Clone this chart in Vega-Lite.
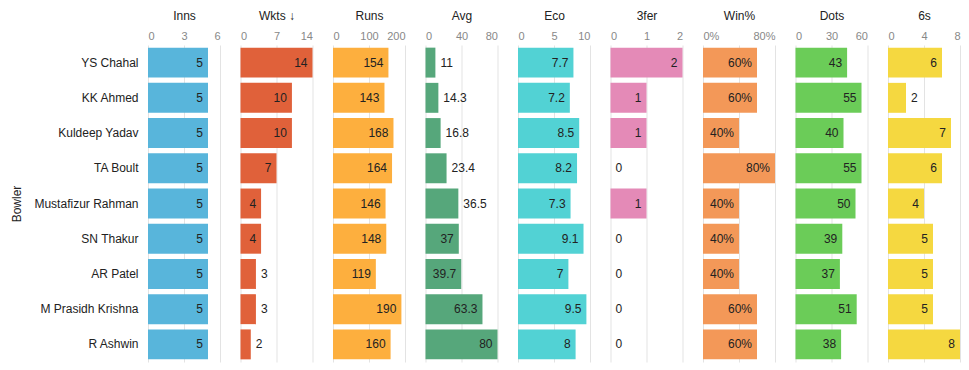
{
  "$schema": "https://vega.github.io/schema/vega-lite/v6.json",
  "padding": {"left": 10, "top": 9, "right": 5, "bottom": 2},
  "spacing": 20.5,
  "data": {"values": [
    {"Bowler": "YS Chahal", "Inns": 5, "Wkts": 14, "Runs": 154, "Avg": 11, "Eco": 7.7, "ThreeFer": 2, "Win": 0.6, "Dots": 43, "Sixes": 6},
    {"Bowler": "KK Ahmed", "Inns": 5, "Wkts": 10, "Runs": 143, "Avg": 14.3, "Eco": 7.2, "ThreeFer": 1, "Win": 0.6, "Dots": 55, "Sixes": 2},
    {"Bowler": "Kuldeep Yadav", "Inns": 5, "Wkts": 10, "Runs": 168, "Avg": 16.8, "Eco": 8.5, "ThreeFer": 1, "Win": 0.4, "Dots": 40, "Sixes": 7},
    {"Bowler": "TA Boult", "Inns": 5, "Wkts": 7, "Runs": 164, "Avg": 23.4, "Eco": 8.2, "ThreeFer": 0, "Win": 0.8, "Dots": 55, "Sixes": 6},
    {"Bowler": "Mustafizur Rahman", "Inns": 5, "Wkts": 4, "Runs": 146, "Avg": 36.5, "Eco": 7.3, "ThreeFer": 1, "Win": 0.4, "Dots": 50, "Sixes": 4},
    {"Bowler": "SN Thakur", "Inns": 5, "Wkts": 4, "Runs": 148, "Avg": 37, "Eco": 9.1, "ThreeFer": 0, "Win": 0.4, "Dots": 39, "Sixes": 5},
    {"Bowler": "AR Patel", "Inns": 5, "Wkts": 3, "Runs": 119, "Avg": 39.7, "Eco": 7, "ThreeFer": 0, "Win": 0.4, "Dots": 37, "Sixes": 5},
    {"Bowler": "M Prasidh Krishna", "Inns": 5, "Wkts": 3, "Runs": 190, "Avg": 63.3, "Eco": 9.5, "ThreeFer": 0, "Win": 0.6, "Dots": 51, "Sixes": 5},
    {"Bowler": "R Ashwin", "Inns": 5, "Wkts": 2, "Runs": 160, "Avg": 80, "Eco": 8, "ThreeFer": 0, "Win": 0.6, "Dots": 38, "Sixes": 8}
  ]},
  "config": {
    "font": "Liberation Sans",
    "view": {"stroke": null},
    "axis": {"domain": false, "ticks": false, "labelColor": "#888", "labelFontSize": 11, "titleFontWeight": "normal", "titleFontSize": 12, "titleColor": "#222", "labelFont": "Liberation Sans", "titleFont": "Liberation Sans"},
    "axisX": {"grid": true, "gridColor": "#e3e3e3", "orient": "top", "labelPadding": 4, "titlePadding": 8, "zindex": 1, "labelOverlap": false},
    "axisY": {"grid": false},
    "text": {"fontSize": 12, "color": "#222"},
    "bar": {"opacity": 1}
  },
  "hconcat": [
    {
      "width": 72, "height": 317,
      "encoding": {
        "y": {"field": "Bowler", "type": "nominal", "sort": null, "scale": {"paddingInner": 0.15, "paddingOuter": 0.075}, "axis": {"title": "Bowler", "labelFontSize": 12, "labelColor": "#222", "labelPadding": 10, "titlePadding": 10}},
        "x": {"field": "Inns", "type": "quantitative", "scale": {"domain": [0, 6], "nice": false}, "axis": {"values": [0, 3, 6], "title": "Inns"}}
      },
      "layer": [
        {"mark": {"type": "bar", "color": "#58B5DB"}},
        {"mark": {"type": "text", "align": "right", "dx": -5}, "encoding": {"text": {"field": "Inns"}}}
      ]
    },
    {
      "width": 72, "height": 317,
      "encoding": {
        "y": {"field": "Bowler", "type": "nominal", "sort": null, "scale": {"paddingInner": 0.15, "paddingOuter": 0.075}, "axis": null},
        "x": {"field": "Wkts", "type": "quantitative", "scale": {"domain": [0, 14], "nice": false}, "axis": {"values": [0, 7, 14], "title": "Wkts ↓"}}
      },
      "layer": [
        {"mark": {"type": "bar", "color": "#E0613A"}},
        {"transform": [{"filter": "datum.Wkts >= 4"}], "mark": {"type": "text", "align": "right", "dx": -5}, "encoding": {"text": {"field": "Wkts"}}},
        {"transform": [{"filter": "datum.Wkts < 4"}], "mark": {"type": "text", "align": "left", "dx": 5}, "encoding": {"text": {"field": "Wkts"}}}
      ]
    },
    {
      "width": 72, "height": 317,
      "encoding": {
        "y": {"field": "Bowler", "type": "nominal", "sort": null, "scale": {"paddingInner": 0.15, "paddingOuter": 0.075}, "axis": null},
        "x": {"field": "Runs", "type": "quantitative", "scale": {"domain": [0, 200], "nice": false}, "axis": {"values": [0, 100, 200], "title": "Runs"}}
      },
      "layer": [
        {"mark": {"type": "bar", "color": "#FDAF3E"}},
        {"mark": {"type": "text", "align": "right", "dx": -5}, "encoding": {"text": {"field": "Runs"}}}
      ]
    },
    {
      "width": 72, "height": 317,
      "encoding": {
        "y": {"field": "Bowler", "type": "nominal", "sort": null, "scale": {"paddingInner": 0.15, "paddingOuter": 0.075}, "axis": null},
        "x": {"field": "Avg", "type": "quantitative", "scale": {"domain": [0, 80], "nice": false}, "axis": {"values": [0, 40, 80], "title": "Avg"}}
      },
      "layer": [
        {"mark": {"type": "bar", "color": "#56A77B"}},
        {"transform": [{"filter": "datum.Avg >= 37"}], "mark": {"type": "text", "align": "right", "dx": -5}, "encoding": {"text": {"field": "Avg"}}},
        {"transform": [{"filter": "datum.Avg < 37"}], "mark": {"type": "text", "align": "left", "dx": 5}, "encoding": {"text": {"field": "Avg"}}}
      ]
    },
    {
      "width": 72, "height": 317,
      "encoding": {
        "y": {"field": "Bowler", "type": "nominal", "sort": null, "scale": {"paddingInner": 0.15, "paddingOuter": 0.075}, "axis": null},
        "x": {"field": "Eco", "type": "quantitative", "scale": {"domain": [0, 10], "nice": false}, "axis": {"values": [0, 5, 10], "title": "Eco"}}
      },
      "layer": [
        {"mark": {"type": "bar", "color": "#52D2D4"}},
        {"mark": {"type": "text", "align": "right", "dx": -5}, "encoding": {"text": {"field": "Eco"}}}
      ]
    },
    {
      "width": 72, "height": 317,
      "encoding": {
        "y": {"field": "Bowler", "type": "nominal", "sort": null, "scale": {"paddingInner": 0.15, "paddingOuter": 0.075}, "axis": null},
        "x": {"field": "ThreeFer", "type": "quantitative", "scale": {"domain": [0, 2], "nice": false}, "axis": {"values": [0, 1, 2], "labelExpr": "format(datum.value, 'd')", "title": "3fer"}}
      },
      "layer": [
        {"mark": {"type": "bar", "color": "#E48AB7"}},
        {"transform": [{"filter": "datum.ThreeFer >= 1"}], "mark": {"type": "text", "align": "right", "dx": -5}, "encoding": {"text": {"field": "ThreeFer"}}},
        {"transform": [{"filter": "datum.ThreeFer < 1"}], "mark": {"type": "text", "align": "left", "dx": 5}, "encoding": {"text": {"field": "ThreeFer"}}}
      ]
    },
    {
      "width": 72, "height": 317,
      "encoding": {
        "y": {"field": "Bowler", "type": "nominal", "sort": null, "scale": {"paddingInner": 0.15, "paddingOuter": 0.075}, "axis": null},
        "x": {"field": "Win", "type": "quantitative", "scale": {"domain": [0, 0.8], "nice": false}, "axis": {"values": [0, 0.4, 0.8], "format": ".0%", "labelExpr": "datum.value == 0.4 ? '' : datum.label", "title": "Win%"}}
      },
      "layer": [
        {"mark": {"type": "bar", "color": "#F39858"}},
        {"mark": {"type": "text", "align": "right", "dx": -5}, "encoding": {"text": {"field": "Win", "format": ".0%"}}}
      ]
    },
    {
      "width": 72, "height": 317,
      "encoding": {
        "y": {"field": "Bowler", "type": "nominal", "sort": null, "scale": {"paddingInner": 0.15, "paddingOuter": 0.075}, "axis": null},
        "x": {"field": "Dots", "type": "quantitative", "scale": {"domain": [0, 60], "nice": false}, "axis": {"values": [0, 30, 60], "title": "Dots"}}
      },
      "layer": [
        {"mark": {"type": "bar", "color": "#6BCC58"}},
        {"mark": {"type": "text", "align": "right", "dx": -5}, "encoding": {"text": {"field": "Dots"}}}
      ]
    },
    {
      "width": 72, "height": 317,
      "encoding": {
        "y": {"field": "Bowler", "type": "nominal", "sort": null, "scale": {"paddingInner": 0.15, "paddingOuter": 0.075}, "axis": null},
        "x": {"field": "Sixes", "type": "quantitative", "scale": {"domain": [0, 8], "nice": false}, "axis": {"values": [0, 4, 8], "title": "6s"}}
      },
      "layer": [
        {"mark": {"type": "bar", "color": "#F5D840"}},
        {"transform": [{"filter": "datum.Sixes >= 4"}], "mark": {"type": "text", "align": "right", "dx": -5}, "encoding": {"text": {"field": "Sixes"}}},
        {"transform": [{"filter": "datum.Sixes < 4"}], "mark": {"type": "text", "align": "left", "dx": 5}, "encoding": {"text": {"field": "Sixes"}}}
      ]
    }
  ]
}
